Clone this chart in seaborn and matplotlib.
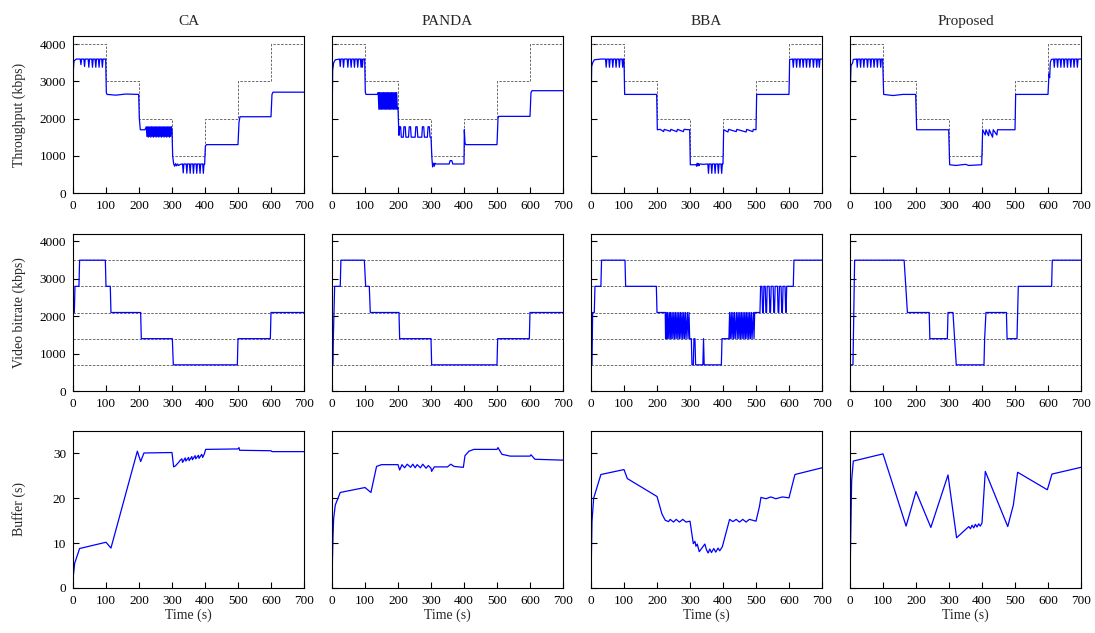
import numpy as np
import matplotlib
matplotlib.use("Agg")
import matplotlib.pyplot as plt
import seaborn as sns

algos = ["CA", "PANDA", "BBA", "Proposed"]
xticks = [0, 100, 200, 300, 400, 500, 600, 700]

# available bandwidth (step profile, kbps)
cap_t = [0, 100, 200, 300, 400, 500, 600, 700]
cap_v = [4000, 3000, 2000, 1000, 2000, 3000, 4000, 4000]

# bitrate ladder (kbps)
levels = [700, 1400, 2100, 2800, 3500]

# measured throughput (time s, kbps)
ca_tput = [(0,1300),(1,3300),(3,3550),(10,3600),(22,3600),(24,3450),(26,3600),(33,3600),(35,3400),(37,3600),
           (46,3600),(48,3380),(50,3600),(57,3600),(59,3380),(61,3600),(67,3600),(69,3380),(71,3600),
           (77,3600),(79,3380),(81,3600),(87,3600),(89,3380),(91,3600),(99,3600),(101,2700),(103,2650),
           (130,2630),(160,2660),(199,2650),(201,2000),(204,1700),(218,1700),
           (222,1780),(224,1520),(226,1780),(228,1500),(230,1780),(232,1520),(234,1780),(236,1500),(238,1780),
           (240,1520),(242,1780),(244,1500),(246,1780),(248,1520),(250,1780),(252,1500),(254,1780),(256,1520),
           (258,1780),(260,1500),(262,1780),(264,1520),(266,1780),(268,1500),(270,1780),(272,1520),(274,1780),
           (276,1500),(278,1780),(280,1520),(282,1780),(284,1500),(286,1780),(288,1520),(290,1780),(292,1500),
           (294,1780),(296,1520),(298,1780),(300,1700),(302,1000),(305,780),(308,720),(311,790),(314,730),
           (317,780),(320,740),(325,770),(332,780),(334,540),(336,780),(343,780),(345,530),(347,780),
           (353,780),(355,530),(357,780),(363,780),(365,530),(367,780),(373,780),(375,530),(377,780),
           (383,780),(385,530),(387,780),(393,780),(395,530),(397,780),(399,780),(401,1250),(404,1300),
           (500,1300),(503,1900),(506,2050),(600,2050),(603,2650),(606,2710),(700,2710)]
panda_tput = [(0,620),(1,2500),(2,3300),(5,3500),(10,3580),(23,3600),(25,3400),(27,3600),(33,3600),(35,3380),
              (37,3600),(46,3600),(48,3380),(50,3600),(56,3600),(58,3380),(60,3600),(66,3600),(68,3380),
              (70,3600),(76,3600),(78,3380),(80,3600),(86,3600),(88,3380),(90,3600),(92,3380),(94,3600),
              (99,3600),(101,2700),(103,2650),(138,2650),
              (140,2700),(142,2250),(144,2700),(146,2250),(148,2700),(150,2250),(152,2700),(154,2250),
              (156,2700),(158,2250),(160,2700),(162,2250),(164,2700),(166,2250),(168,2700),(170,2250),
              (172,2700),(174,2250),(176,2700),(178,2250),(180,2700),(182,2250),(184,2700),(186,2250),
              (188,2700),(190,2250),(192,2700),(194,2250),(196,2700),(198,2250),(200,2300),
              (201,2000),(203,1550),(205,1780),(208,1780),(210,1500),(216,1500),(218,1780),(222,1780),
              (224,1500),(232,1500),(234,1780),(238,1780),(240,1500),(252,1500),(254,1780),(258,1780),
              (260,1500),(272,1500),(274,1780),(278,1780),(280,1500),(289,1500),(291,1780),(295,1780),
              (297,1500),(300,1500),(303,900),(305,700),(308,800),(310,720),(312,800),(315,780),(355,780),
              (358,870),(363,870),(366,780),(400,780),(401,1700),(403,1350),(405,1300),(500,1300),
              (503,2000),(505,2060),(600,2060),(603,2700),(606,2750),(700,2750)]
bba_tput = [(0,580),(1,2800),(2,3400),(5,3500),(10,3580),(30,3600),(44,3600),(46,3380),(48,3600),(54,3600),
            (56,3380),(58,3600),(64,3600),(66,3380),(68,3600),(74,3600),(76,3380),(78,3600),(84,3600),
            (86,3380),(88,3600),(94,3600),(96,3380),(98,3600),(100,3600),(102,2650),(199,2650),(201,1700),
            (210,1710),(220,1650),(222,1710),(240,1660),(242,1710),(260,1650),(262,1710),(280,1650),
            (282,1710),(299,1700),(301,760),(318,760),(320,720),(322,800),(324,730),(326,790),(328,740),
            (330,780),(340,770),(354,780),(356,530),(358,780),(364,780),(366,530),(368,780),(374,780),
            (376,530),(378,780),(384,780),(386,530),(388,780),(394,780),(396,530),(398,780),(400,780),
            (402,1700),(415,1640),(417,1710),(440,1650),(442,1710),(470,1640),(472,1710),(490,1650),
            (492,1710),(500,1700),(502,2650),(600,2650),(602,3590),(611,3600),(613,3380),(615,3600),
            (621,3600),(623,3380),(625,3600),(631,3600),(633,3380),(635,3600),(641,3600),(643,3380),
            (645,3600),(651,3600),(653,3380),(655,3600),(661,3600),(663,3380),(665,3600),(672,3600),
            (674,3380),(676,3600),(682,3600),(684,3380),(686,3600),(690,3600),(692,3380),(694,3600),
            (700,3600)]
prop_tput = [(0,600),(1,2800),(3,3420),(8,3500),(10,3590),(20,3600),(22,3380),(24,3600),(30,3600),(32,3380),
             (34,3600),(40,3600),(42,3380),(44,3600),(51,3600),(53,3380),(55,3600),(61,3600),(63,3380),
             (65,3600),(71,3600),(73,3380),(75,3600),(81,3600),(83,3380),(85,3600),(91,3600),(93,3380),
             (95,3600),(99,3600),(102,2650),(130,2620),(160,2650),(199,2650),(202,1700),(299,1700),
             (302,760),(320,740),(350,770),(360,740),(399,760),(402,1700),(410,1560),(412,1700),(420,1540),
             (422,1700),(432,1500),(434,1700),(445,1560),(447,1700),(500,1700),(502,2650),(600,2650),
             (603,3200),(605,3100),(607,3500),(610,3590),(617,3600),(619,3380),(621,3600),(627,3600),
             (629,3380),(631,3600),(637,3600),(639,3380),(641,3600),(647,3600),(649,3380),(651,3600),
             (657,3600),(659,3380),(661,3600),(667,3600),(669,3380),(671,3600),(677,3600),(679,3380),
             (681,3600),(687,3600),(689,3380),(691,3600),(700,3600)]

# selected video bitrate (time s, kbps)
ca_rate = [(0,2100),(4,2100),(6,2800),(18,2800),(20,3500),(98,3500),(100,2800),(113,2800),(115,2100),
           (205,2100),(207,1400),(301,1400),(304,700),(498,700),(500,1400),(598,1400),(600,2100),(700,2100)]
panda_rate = [(0,700),(3,700),(4,1400),(6,2100),(8,2800),(25,2800),(27,3500),(98,3500),(102,2800),
              (113,2800),(116,2100),(203,2100),(205,1400),(300,1400),(302,700),(500,700),(502,1400),
              (598,1400),(600,2100),(700,2100)]
bba_rate = [(0,700),(3,700),(5,2100),(10,2100),(12,2800),(30,2800),(32,3500),(103,3500),(105,2800),
            (198,2800),(200,2100),(225,2100),(226,1400),(228,2100),(230,1400),(232,2100),(234,1400),
            (237,2100),(239,1400),(241,2100),(243,1400),(246,2100),(248,1400),(251,2100),(253,1400),
            (256,2100),(258,1400),(261,2100),(263,1400),(266,2100),(268,1400),(271,2100),(273,1400),
            (276,2100),(278,1400),(281,2100),(283,1400),(286,2100),(288,1400),(292,2100),(294,1400),
            (297,2100),(299,1400),(304,1400),(306,700),(310,700),(312,1400),(315,1400),(317,700),
            (339,700),(341,1400),(343,700),(395,700),(397,1400),(418,1400),(420,2100),(422,1400),
            (425,2100),(427,1400),(430,2100),(432,1400),(435,2100),(437,1400),(441,2100),(443,1400),
            (446,2100),(448,1400),(451,2100),(453,1400),(456,2100),(458,1400),(461,2100),(463,1400),
            (466,2100),(468,1400),(471,2100),(473,1400),(476,2100),(478,1400),(481,2100),(483,1400),
            (486,2100),(488,1400),(492,2100),(494,1400),(496,2100),(512,2100),(514,2800),(518,2800),
            (520,2100),(522,2100),(524,2800),(528,2800),(530,2100),(532,2100),(534,2800),(540,2800),
            (542,2100),(544,2100),(546,2800),(552,2800),(554,2100),(556,2100),(558,2800),(565,2800),
            (567,2100),(569,2100),(571,2800),(576,2800),(578,2100),(580,2100),(582,2800),(588,2800),
            (590,2100),(591,2100),(593,2800),(613,2800),(615,3500),(700,3500)]
prop_rate = [(0,700),(9,700),(14,3500),(164,3500),(169,2800),(174,2100),(240,2100),(242,1400),(295,1400),
             (297,2100),(312,2100),(322,700),(406,700),(408,1400),(412,2100),(474,2100),(476,1400),
             (506,1400),(510,2800),(611,2800),(613,3500),(700,3500)]

# buffer level (time s, seconds)
ca_buf = [(0,2),(5,5.5),(20,8.8),(100,10.2),(115,8.9),(195,30.5),(205,28.2),(215,30.1),(300,30.2),
          (305,27),(310,27.2),(320,28),(325,28.5),(330,28.8),(332,28),(340,29),(342,28.3),(350,29.1),
          (352,28.4),(360,29.3),(362,28.6),(370,29.5),(372,28.8),(380,29.6),(382,28.9),(390,29.8),
          (393,29.1),(398,29.9),(402,30.9),(500,31),(503,31.3),(505,30.7),(600,30.6),(603,30.4),(700,30.4)]
panda_buf = [(0,2),(3,11.4),(5,15.5),(10,18.5),(25,21.3),(100,22.4),(118,21.3),(135,27.1),(150,27.5),
             (200,27.5),(205,26.3),(212,27.5),(220,26.8),(228,27.6),(238,26.9),(245,27.6),(252,26.8),
             (258,27.5),(268,26.8),(275,27.6),(285,26.7),(292,27.3),(300,26.7),(302,26),(310,27),
             (350,27),(360,27.6),(370,27.1),(398,26.9),(403,29.5),(415,30.5),(430,30.9),(500,30.9),
             (503,31.3),(515,29.8),(540,29.4),(600,29.4),(603,29.7),(615,28.7),(700,28.5)]
bba_buf = [(0,2),(3,14.8),(8,20),(30,25.3),(100,26.4),(110,24.4),(200,20.4),(215,16.5),(225,15.1),
           (235,14.8),(240,15.3),(250,14.7),(258,15.3),(268,14.7),(278,15.3),(288,14.7),(300,14.9),
           (310,9.9),(315,10.4),(318,9.3),(322,9.8),(328,8.1),(345,9.8),(350,8.5),(355,7.8),(360,8.7),
           (365,7.9),(372,8.8),(378,8),(385,8.9),(390,8.3),(398,9.2),(420,15.3),(430,14.8),(440,15.3),
           (450,14.7),(460,15.3),(470,14.7),(480,15.3),(500,14.9),(510,18),(515,20.2),(530,19.9),
           (545,20.3),(560,19.9),(580,20.3),(600,20.1),(618,25.3),(700,26.8)]
prop_buf = [(0,2),(5,24),(10,28.3),(100,29.9),(170,13.8),(200,21.5),(245,13.5),(297,25.2),(323,11.2),
            (360,13.7),(365,13.2),(370,14),(375,13.4),(380,14.2),(385,13.6),(390,14.3),(395,13.8),
            (400,14.5),(410,26),(478,13.7),(495,18.5),(508,25.8),(598,21.9),(612,25.4),(700,26.9)]

tputs = [ca_tput, panda_tput, bba_tput, prop_tput]
rates = [ca_rate, panda_rate, bba_rate, prop_rate]
bufs = [ca_buf, panda_buf, bba_buf, prop_buf]

sns.set_theme(style="ticks")
plt.rcParams["font.family"] = ["Liberation Serif", "DejaVu Serif"]
plt.rcParams["axes.linewidth"] = 0.8

fig = plt.figure(figsize=(10.95, 6.33), dpi=100)
lefts = [73 / 1095, 332 / 1095, 591 / 1095, 850 / 1095]
bottoms = [1 - 193 / 633, 1 - 391 / 633, 1 - 588 / 633]
w, h = 231 / 1095, 157 / 633

blue = "#0000ff"
grey = "#6a6a6a"
dash = (0, (2.5, 1.5))

def draw(ax, pts):
    t = [p[0] for p in pts]
    v = [p[1] for p in pts]
    sns.lineplot(x=t, y=v, ax=ax, sort=False, estimator=None, color=blue, lw=0.9)

for r in range(3):
    for c in range(4):
        ax = fig.add_axes([lefts[c], bottoms[r], w, h])
        if r == 0:
            sns.lineplot(x=cap_t, y=cap_v, ax=ax, color=grey, lw=0.7, drawstyle="steps-post",
                         linestyle=dash)
            draw(ax, tputs[c])
            ax.set_ylim(0, 4220)
            ax.set_yticks([0, 1000, 2000, 3000, 4000])
            ax.set_title(algos[c], fontsize=11, pad=8)
        elif r == 1:
            for lv in levels:
                ax.axhline(lv, color=grey, lw=0.7, linestyle=dash)
            draw(ax, rates[c])
            ax.set_ylim(0, 4200)
            ax.set_yticks([0, 1000, 2000, 3000, 4000])
        else:
            draw(ax, bufs[c])
            ax.set_ylim(0, 35)
            ax.set_yticks([0, 10, 20, 30])
            ax.set_xlabel("Time (s)", fontsize=10, labelpad=1)
        ax.set_xlim(0, 700)
        ax.set_xticks(xticks)
        ax.tick_params(direction="in", length=4, width=0.8, labelsize=9.5, colors="black")
        ax.tick_params(axis="x", pad=5)
        ax.tick_params(axis="y", pad=5)
        for s in ax.spines.values():
            s.set_color("black")
        if c == 0:
            ax.set_ylabel(["Throughput (kbps)", "Video bitrate (kbps)", "Buffer (s)"][r], fontsize=10)
            ax.yaxis.set_label_coords(-0.205, 0.5)
        else:
            ax.set_yticklabels([])

fig.savefig("out.png", dpi=100)
